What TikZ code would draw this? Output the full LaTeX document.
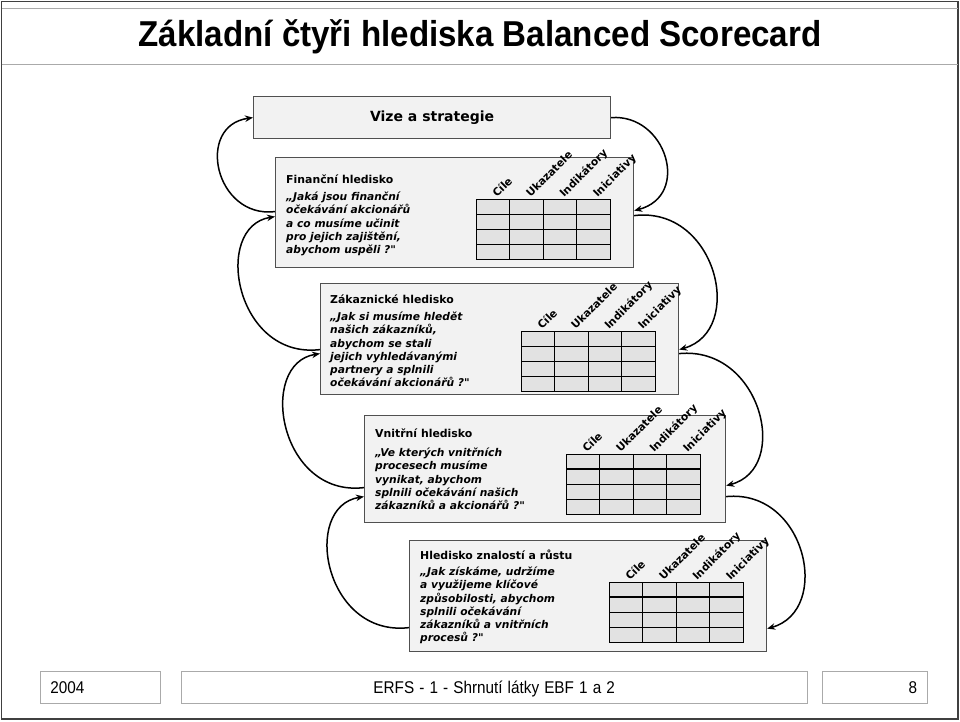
\documentclass[tikz,border=0pt]{standalone}
\usepackage{graphicx}
\usepackage{fontspec}
\setmainfont{DejaVu Sans}[Ligatures=TeXOff]
\newfontfamily\titlefont{Liberation Sans}
\usepackage{tikz}
\usetikzlibrary{arrows.meta, positioning, calc}
\definecolor{frame}{RGB}{64,64,64}
\definecolor{rule}{RGB}{170,170,170}
\definecolor{boxfill}{RGB}{242,242,242}
\definecolor{cellfill}{RGB}{226,226,226}
\definecolor{boxline}{RGB}{80,80,80}

\tikzset{
  persp/.style={draw=boxline, line width=1.2pt, fill=boxfill, inner sep=0pt, anchor=north west},
  cell/.style={draw=black, line width=1pt, fill=cellfill},
  collabel/.style={rotate=45, anchor=base west, inner sep=0pt, font=\fontsize{10.7}{12}\selectfont\bfseries},
  ptitle/.style={anchor=west, inner sep=0pt, font=\fontsize{10.9}{13}\selectfont\bfseries},
  pquote/.style={anchor=north west, align=left, inner sep=0pt, font=\fontsize{10.7}{13.2}\selectfont\bfseries\itshape},
  cyclearrow/.style={line width=1.5pt, -{Stealth[length=8pt,width=6.5pt]}},
  footbox/.style={draw=rule, line width=0.8pt, minimum height=32pt, inner xsep=10pt, text height=12.5pt, text depth=0pt,
    anchor=north west, font=\titlefont\fontsize{17}{20}\selectfont}
}

% grid of a perspective: name, x, y, width of the header rule
\newcommand{\scoregrid}[4]{%
  \foreach \col in {0,...,3}
    \foreach \row in {0,...,3}
      \draw[cell] ({#2+\col*33.5},{#3+\row*15}) rectangle ++(33.5,15);
  \draw[line width=#4] (#2,{#3+15}) -- ++(134,0);
  \foreach \lab [count=\col from 0] in {Cíle,Ukazatele,Indikátory,Iniciativy}
    \node[collabel] (#1-\col) at ({#2+\col*33.5+21},{#3-1}) {\lab};
}

\begin{document}
\begin{tikzpicture}[x=1pt, y=-1pt]
  \useasboundingbox (0,0) rectangle (960,721);
  % slide frame and title band
  \draw[frame, line width=1.5pt] (1.5,1.5) rectangle (958,719);
  \draw[rule, line width=1pt] (1.5,8) -- (958,8) (1.5,64) -- (958,64);
  \node[font=\titlefont\fontsize{36}{40}\selectfont\bfseries, xscale=0.92, inner sep=0pt] (title) at (480,37)
    {Základní čtyři hlediska Balanced Scorecard};

  % vision and the four perspectives
  \node[persp, minimum width=357pt, minimum height=42pt, font=\fontsize{14}{16}\selectfont\bfseries] (vize) at (253,96) {Vize a strategie};
  \node[persp, minimum width=358pt, minimum height=110pt] (fin) at (275,157) {};
  \node[persp, minimum width=358pt, minimum height=111pt] (zak) at (320,283) {};
  \node[persp, minimum width=361pt, minimum height=107pt] (vnit) at (364,415) {};
  \node[persp, minimum width=357pt, minimum height=111pt] (rust) at (409,540) {};

  \node[ptitle] (fin-t) at (286,179) {Finanční hledisko};
  \node[pquote] (fin-q) at (286,192) {„Jaká jsou finanční\\očekávání akcionářů\\a co musíme učinit\\pro jejich zajištění,\\abychom uspěli ?"};
  \node[ptitle] (zak-t) at (330,299) {Zákaznické hledisko};
  \node[pquote] (zak-q) at (330,312) {„Jak si musíme hledět\\našich zákazníků,\\abychom se stali\\jejich vyhledávanými\\partnery a splnili\\očekávání akcionářů ?"};
  \node[ptitle] (vnit-t) at (375,433) {Vnitřní hledisko};
  \node[pquote] (vnit-q) at (375,448) {„Ve kterých vnitřních\\procesech musíme\\vynikat, abychom\\splnili očekávání našich\\zákazníků a akcionářů ?"};
  \node[ptitle] (rust-t) at (420,555) {Hledisko znalostí a růstu};
  \node[pquote] (rust-q) at (420,567) {„Jak získáme, udržíme\\a využijeme klíčové\\způsobilosti, abychom\\splnili očekávání\\zákazníků a vnitřních\\procesů ?"};

  \scoregrid{fin}{476}{199}{1pt}
  \scoregrid{zak}{521}{331}{1pt}
  \scoregrid{vnit}{566}{454}{2pt}
  \scoregrid{rust}{609}{582}{2pt}

  % ends of the loops
  \coordinate (finRin) at ([yshift=2pt]fin.east);
  \coordinate (finRout) at ([yshift=-3pt]fin.east);
  \coordinate (finLout) at ([yshift=1pt]fin.west);
  \coordinate (finLin) at ([yshift=-4pt]fin.west);
  \coordinate (zakRin) at ([yshift=-10.5pt]zak.east);
  \coordinate (zakRout) at ([yshift=-14.5pt]zak.east);
  \coordinate (zakLout) at ([yshift=-10.5pt]zak.west);
  \coordinate (zakLin) at ([yshift=-14.5pt]zak.west);
  \coordinate (vnitRin) at ([yshift=-16.5pt]vnit.east);
  \coordinate (vnitRout) at ([yshift=-27.5pt]vnit.east);
  \coordinate (vnitLout) at ([yshift=-18.5pt]vnit.west);
  \coordinate (vnitLin) at ([yshift=-27.5pt]vnit.west);
  \coordinate (rustRin) at ([yshift=-32.5pt]rust.east);
  \coordinate (rustLout) at ([yshift=-31.5pt]rust.west);

  % down the right side
  \draw[cyclearrow] (vize.east) .. controls +(55,-4) and +(57,-15) .. (finRin);
  \draw[cyclearrow] (finRout) .. controls +(82,-10) and +(67,-19) .. (zakRin);
  \draw[cyclearrow] (zakRout) .. controls +(82,-8) and +(65,-17) .. (vnitRin);
  \draw[cyclearrow] (vnitRout) .. controls +(80,-8) and +(65,-18) .. (rustRin);
  % up the left side
  \draw[cyclearrow] (finLout) .. controls +(-60,7) and +(-58,8) .. (vize.west);
  \draw[cyclearrow] (zakLout) .. controls +(-85,10) and +(-63,10) .. (finLin);
  \draw[cyclearrow] (vnitLout) .. controls +(-85,10) and +(-63,10) .. (zakLin);
  \draw[cyclearrow] (rustLout) .. controls +(-85,10) and +(-63,10) .. (vnitLin);

  % footer
  \node[footbox, text width=100pt, align=left] (year) at (40,671) {\scalebox{0.9}[1]{2004}};
  \node[footbox, text width=605.5pt, align=center] (course) at (181,671) {\scalebox{0.9}[1]{ERFS - 1 - Shrnutí látky EBF 1 a 2}};
  \node[footbox, text width=84.7pt, align=right] (page) at (822,671) {\scalebox{0.9}[1]{8}};
\end{tikzpicture}
\end{document}
